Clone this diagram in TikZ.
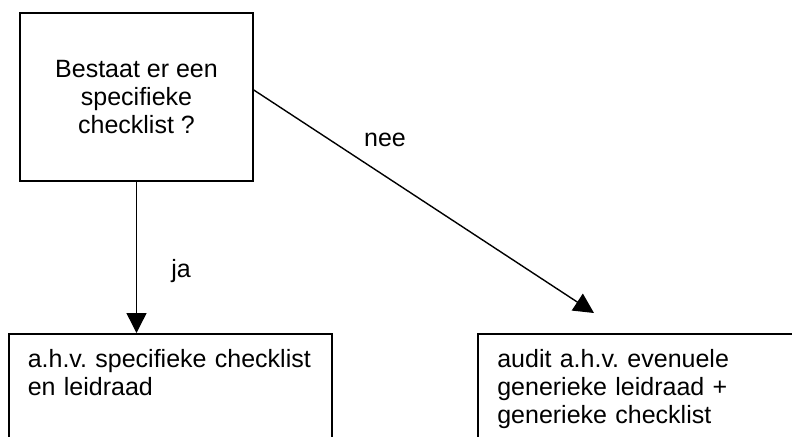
\documentclass[tikz,border=0pt]{standalone}
\usepackage{fontspec}
\setmainfont{Liberation Sans}
\usetikzlibrary{arrows.meta, positioning}

\newcommand{\tekstfont}{\fontsize{12.5}{14}\selectfont\frenchspacing\hyphenpenalty=10000\relax}

\begin{document}
\begin{tikzpicture}[x=0.5pt, y=-0.5pt, line width=0.8pt,
    every node/.style={font=\tekstfont},
    vraag/.style={draw, rectangle, align=center, minimum width=116.5pt, minimum height=84pt},
    actie/.style={draw, rectangle, align=left, anchor=north west, inner xsep=9.75pt, inner ysep=0pt, text height=17pt, text depth=60pt},
    pijl/.style={line width=0.7pt, -{Triangle[length=10pt, width=10pt]}}]
    \clip (0,0) rectangle (792,436);

    \node (check) [vraag] at (136.5,97) {Bestaat er een\\ specifieke\\ checklist ?};
    \node (spec) [actie, text width=142.5pt, inner xsep=9.5pt] at (8,333) {a.h.v. specifieke checklist\\ en leidraad};
    \node (gen) [actie, text width=200pt] at (477,333) {audit a.h.v. evenuele\\ generieke leidraad +\\ generieke checklist};
    \coordinate (neetip) at (594,313);

    \draw [pijl] (check.south) -- (check.south |- spec.north);
    \draw [pijl] ([yshift=3.5pt]check.east) -- (neetip);

    \node (ja) at (181,271) {ja};
    \node (nee) at (385,140) {nee};
\end{tikzpicture}
\end{document}
